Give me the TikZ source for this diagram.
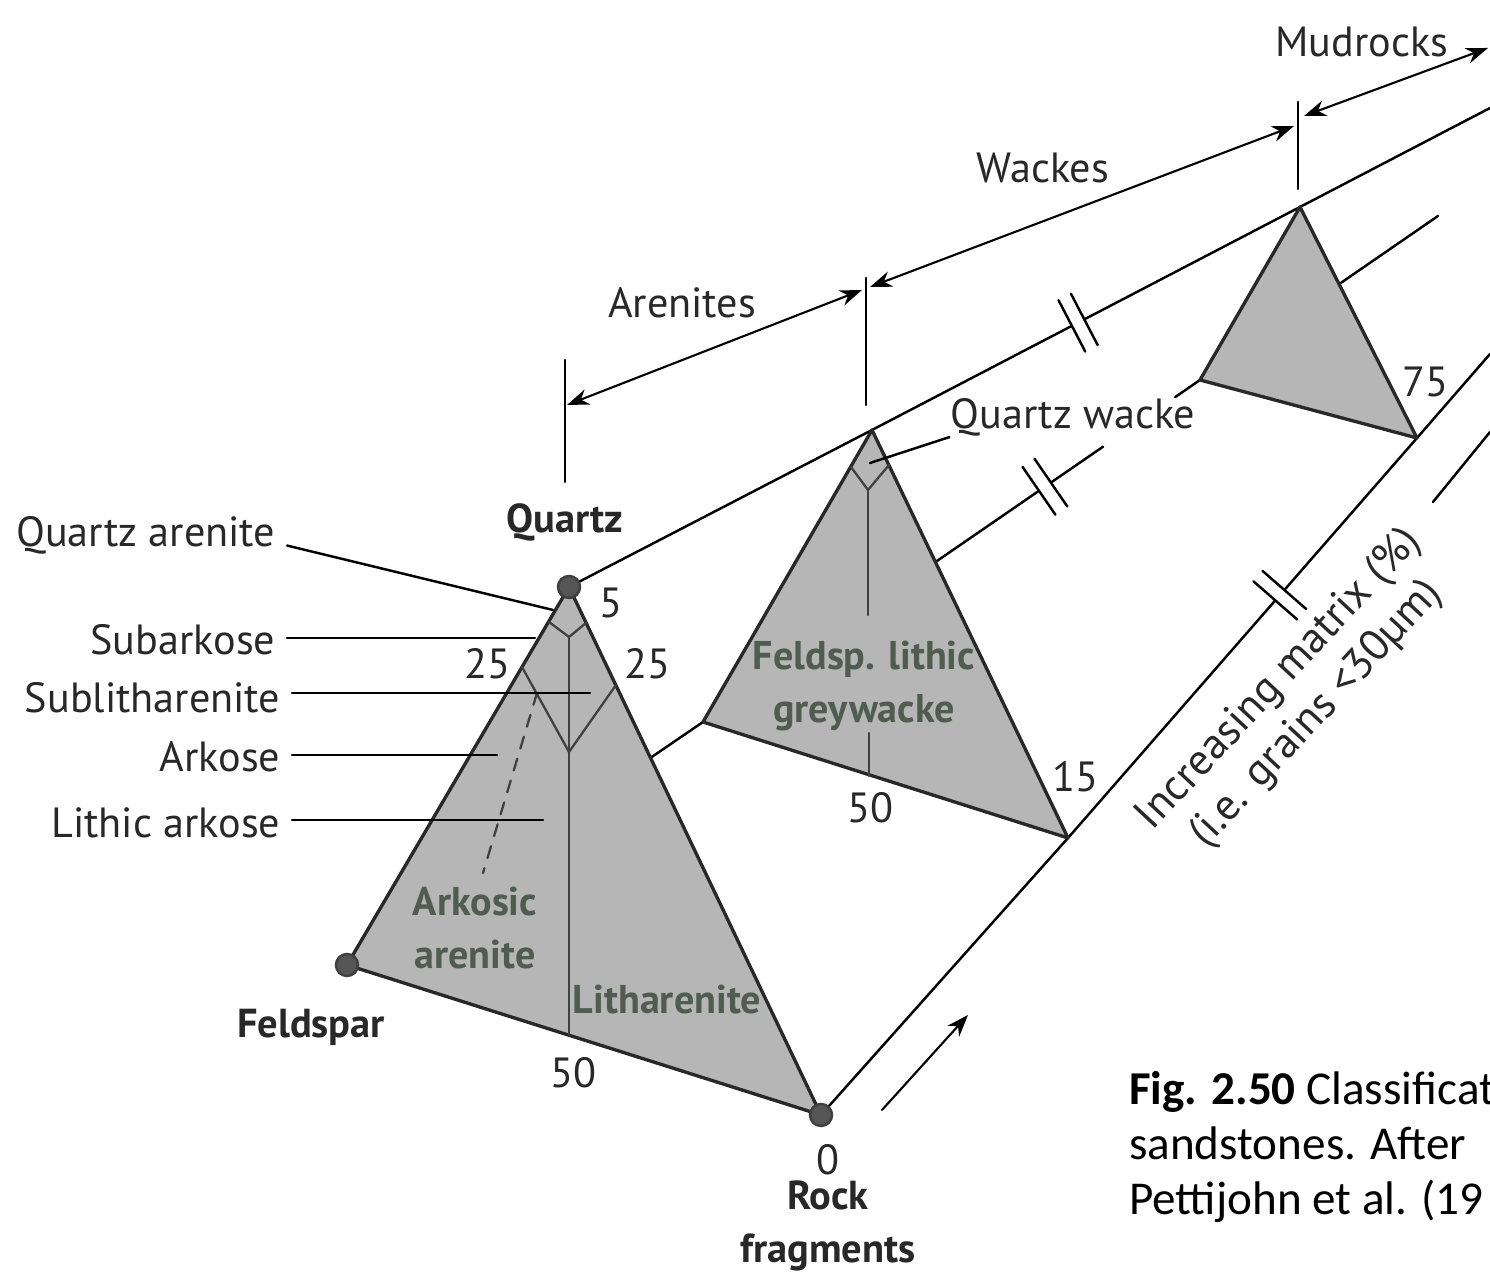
\documentclass[tikz,border=0pt]{standalone}
\usepackage{fontspec}
\setmainfont{PT Sans}
\newfontfamily\capfont{Carlito}
\usetikzlibrary{arrows.meta,calc}

\definecolor{trifill}{RGB}{182,182,182}
\definecolor{inkgray}{RGB}{40,40,40}
\definecolor{fieldtxt}{RGB}{80,92,80}
\definecolor{dotgray}{RGB}{85,85,85}
\newcommand\lblfont{\fontsize{12}{14}\selectfont}

\begin{document}
\begin{tikzpicture}[x=0.01cm, y=-0.01cm, line width=0.7pt, line cap=round,
  every node/.style={align=center, inner sep=0pt, text=inkgray, font=\lblfont},
  tri/.style={fill=trifill, draw=inkgray, line width=0.95pt, line join=round},
  inner/.style={draw=black!75, line width=0.65pt},
  field/.style={text=fieldtxt, font=\fontsize{11.4}{15}\selectfont\bfseries},
  corner/.style={font=\fontsize{11.5}{14}\selectfont\bfseries},
  side/.style={anchor=east, inner xsep=3pt},
  vdot/.style={circle, fill=dotgray, draw=black!75, minimum size=0.22cm},
  dimarrow/.style={{Stealth[length=2.2mm,width=1.6mm]}-{Stealth[length=2.2mm,width=1.6mm]}, line width=0.6pt},
  capt/.style={anchor=base west, font=\capfont\fontsize{13.4}{16}\selectfont, text=black}]

\useasboundingbox (0,0) rectangle (1490,1277);
\clip (0,0) rectangle (1490,1277);

% corners of the three triangles
\coordinate (Q1) at (569,587);  \coordinate (F1) at (347,965);  \coordinate (R1) at (821,1115);
\coordinate (Q2) at (872,430);  \coordinate (F2) at (703,722);  \coordinate (R2) at (1068,838);
\coordinate (Q3) at (1300,207); \coordinate (F3) at (1200,380); \coordinate (R3) at (1417,438);
\coordinate (qend) at (1490,108); \coordinate (fend) at (1438,216); \coordinate (rend) at (1490,354);
\coordinate (ax1) at (1433,502); \coordinate (ax2) at (1490,432);

% connecting lines, drawn first so the triangles hide them
\draw (Q1) -- (Q2) -- ($(Q2)!0.467!(Q3)$);
\draw ($(Q2)!0.496!(Q3)$) -- (Q3) -- (qend);
\draw (F1) -- (F2) -- ($(F2)!0.676!(F3)$);
\draw ($(F2)!0.700!(F3)$) -- ($(F2)!0.805!(F3)$);
\draw ($(F2)!0.950!(F3)$) -- (F3) -- (fend);
\draw (R1) -- (R2) -- ($(R2)!0.594!(R3)$);
\draw ($(R2)!0.620!(R3)$) -- (R3) -- (rend);
\draw (ax1) -- (ax2);
\foreach \a/\b/\t in {Q2/Q3/0.467, Q2/Q3/0.496, F2/F3/0.676, F2/F3/0.700, R2/R3/0.594, R2/R3/0.620}
  \draw ($(\a)!\t!(\b)!0.29cm!90:(\b)$) -- ($(\a)!\t!(\b)!0.29cm!-90:(\b)$);

\filldraw[tri] (Q1) -- (F1) -- (R1) -- cycle;
\filldraw[tri] (Q2) -- (F2) -- (R2) -- cycle;
\filldraw[tri] (Q3) -- (F3) -- (R3) -- cycle;

% fields of the arenite triangle
\coordinate (a5l) at (549,622);  \coordinate (a5v) at (569,637);  \coordinate (a5r) at (586,623);
\coordinate (a25l) at (522,667); \coordinate (a25v) at (569,752); \coordinate (a25r) at (616,685);
\coordinate (a50) at (569,1035);
\draw[inner] (a5l) -- (a5v) -- (a5r);
\draw[inner] (a25l) -- (a25v) -- (a25r);
\draw[inner] (a5v) -- (a50);
\draw[inner, dashed, dash pattern=on 3.5pt off 3pt] (537,693) -- (483,873);

% fields of the wacke triangle
\coordinate (w5l) at (851,467); \coordinate (w5v) at (868,490); \coordinate (w5r) at (889,465);
\coordinate (wmid) at (868,615); \coordinate (wlow) at (869,733); \coordinate (w50) at (869,776);
\draw[inner] (w5l) -- (w5v) -- (w5r);
\draw[inner] (w5v) -- (wmid);
\draw[inner] (wlow) -- (w50);

\node[vdot] (dq) at (Q1) {};
\node[vdot] (df) at (F1) {};
\node[vdot] (dr) at (R1) {};

% names on the left with their leaders
\node[side] (qa) at (287,535) {Quartz arenite};
\node[side] (sk) at (287,640) {Subarkose};
\node[side] (sl) at (292,698) {Sublitharenite};
\node[side] (ak) at (292,757) {Arkose};
\node[side] (la) at (292,823) {Lithic arkose};
\coordinate (qa-end) at (553,610);
\coordinate (sk-end) at (535,638);
\coordinate (sl-end) at (590,693);
\coordinate (ak-end) at (497,755);
\coordinate (la-end) at (543,820);
\draw ([yshift=-3pt]qa.east) -- (qa-end);
\draw (sk.east |- sk-end) -- (sk-end);
\draw (sl.east |- sl-end) -- (sl-end);
\draw (ak.east |- ak-end) -- (ak-end);
\draw (la.east |- la-end) -- (la-end);

% corner names and percentages
\node[corner] (quartz) at (565,522) {Quartz};
\node[corner] (feld) at (311,1027) {Feldspar};
\node[corner] (rock) at (828,1226) {Rock\\[1pt]fragments};
\node (p5) at (611,603) {5};
\node (p25l) at (487,664) {25};
\node (p25r) at (647,664) {25};
\node (p50a) at (573,1073) {50};
\node (p0) at (828,1160) {0};
\node (p50w) at (870,808) {50};
\node (p15) at (1075,777) {15};
\node (p75) at (1425,382) {75};

\node[field] (arkar) at (475,928) {Arkosic\\arenite};
\node[field] (lith) at (667,1000) {Litharenite};
\node[field] (fgw) at (864,686) {Feldsp. lithic\\greywacke};

\node (qw) at (1073,417) {Quartz wacke};
\coordinate (qw-end) at (870,463);
\draw (qw.south west) -- (qw-end);

% class ranges along the top
\coordinate (t1a) at (565,360);  \coordinate (t1b) at (565,482);
\coordinate (t2a) at (866,278);  \coordinate (t2b) at (866,405);
\coordinate (t3a) at (1298,102); \coordinate (t3b) at (1298,189);
\draw[line width=0.6pt] (t1a) -- (t1b);
\draw[line width=0.6pt] (t2a) -- (t2b);
\draw[line width=0.6pt] (t3a) -- (t3b);
\coordinate (ar1) at (567,405);  \coordinate (ar2) at (862,290);
\coordinate (wk1) at (870,287);  \coordinate (wk2) at (1294,126);
\coordinate (md1) at (1304,116); \coordinate (md2) at (1488,48);
\draw[dimarrow] (ar1) -- (ar2);
\draw[dimarrow] (wk1) -- (wk2);
\draw[dimarrow] (md1) -- (md2);
\node (aren) at (682,303) {Arenites};
\node (wack) at (1043,168) {Wackes};
\node (mud) at (1362,42) {Mudrocks};

% matrix axis
\node[rotate=47, font=\fontsize{12.4}{14.5}\selectfont] (matx) at (1298,697) {Increasing matrix (\%)\\(i.e. grains <30µm)};
\coordinate (up1) at (882,1110); \coordinate (up2) at (968,1015);
\draw[-{Stealth[length=2.2mm,width=1.6mm]}, line width=0.6pt] (up1) -- (up2);

% caption, cut by the right edge as in the source
\node[capt] (cap1) at (1128,1105) {\textbf{Fig. 2.50} Classificat};
\node[capt] (cap2) at (1128,1160) {sandstones. After};
\node[capt] (cap3) at (1128,1215) {Pettijohn et al. (19};
\end{tikzpicture}
\end{document}
